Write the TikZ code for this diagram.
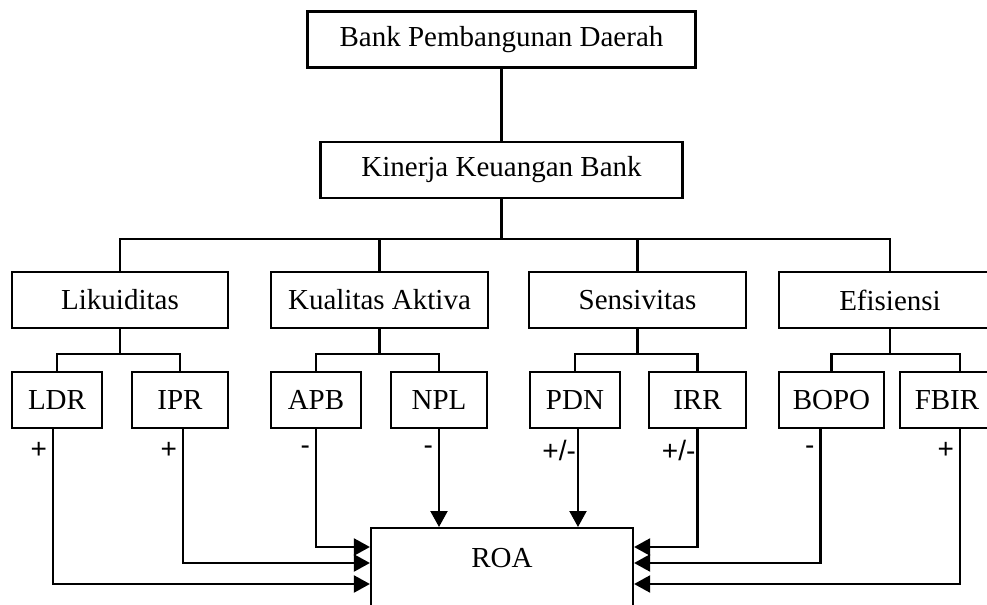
\documentclass[tikz,border=0pt]{standalone}
\usepackage{fontspec}
\setmainfont{Liberation Serif}
\newfontfamily\signfont{Liberation Sans}
\usetikzlibrary{arrows.meta}

\begin{document}
\begin{tikzpicture}[
    x=0.5pt, y=-0.5pt,
    box/.style={draw, line width=1.1pt, minimum height=28pt, inner sep=0pt, font=\fontsize{14.5}{16}\selectfont},
    link/.style={line width=1.1pt},
    arrow/.style={line width=1.1pt, -{Triangle[length=8pt, width=8.5pt]}},
    sign/.style={anchor=east, inner sep=2.5pt, font=\signfont\fontsize{14}{16}\selectfont}
  ]
  \useasboundingbox (0,0) rectangle (987,605);
  \clip (0,0) rectangle (987,605);

  % Top levels
  \node[box, minimum width=194pt] (bpd) at (501.5,39.5) {Bank Pembangunan Daerah};
  \node[box, minimum width=181pt] (kin) at (501.5,170) {Kinerja Keuangan Bank};

  % Aspects
  \node[box, minimum width=108pt] (lik) at (120,300) {Likuiditas};
  \node[box, minimum width=108.5pt] (kual) at (379.5,300) {Kualitas Aktiva};
  \node[box, minimum width=108.5pt] (sens) at (637.5,300) {Sensivitas};
  \node[box, minimum width=111pt] (efis) at (890,300) {Efisiensi};

  % Ratios
  \node[box, minimum width=45pt] (ldr) at (57,400) {LDR};
  \node[box, minimum width=48pt] (ipr) at (180,400) {IPR};
  \node[box, minimum width=45pt] (apb) at (316,400) {APB};
  \node[box, minimum width=48pt] (npl) at (439,400) {NPL};
  \node[box, minimum width=45pt] (pdn) at (575,400) {PDN};
  \node[box, minimum width=48.5pt] (irr) at (697.5,400) {IRR};
  \node[box, minimum width=52.5pt] (bopo) at (831.5,400) {BOPO};
  \node[box, minimum width=47pt] (fbir) at (947,400) {FBIR};

  % Dependent variable
  \node[box, anchor=north, minimum width=131pt, text height=19.5pt, text depth=60pt] (roa) at (502,527) {ROA};

  % Tree
  \draw[link] (bpd.south) -- (kin.north);
  \draw[link] (kin.south) -- ++(0,40) coordinate (bus);
  \draw[link] (lik.north) |- (bus) -| (efis.north);
  \draw[link] (kual.north) -- (kual.north |- bus);
  \draw[link] (sens.north) -- (sens.north |- bus);

  \draw[link] (lik.south) -- ++(0,25) coordinate (likbus);
  \draw[link] (ldr.north) |- (likbus) -| (ipr.north);
  \draw[link] (kual.south) -- ++(0,25) coordinate (kualbus);
  \draw[link] (apb.north) |- (kualbus) -| (npl.north);
  \draw[link] (sens.south) -- ++(0,25) coordinate (sensbus);
  \draw[link] (pdn.north) |- (sensbus) -| (irr.north);
  \draw[link] (efis.south) -- ++(0,25) coordinate (efisbus);
  \draw[link] (bopo.north) |- (efisbus) -| ([xshift=6.5pt]fbir.north);

  % Effects on ROA
  \draw[arrow] ([xshift=-2pt]ldr.south) -- ++(0,21) node[sign] {+} |- ([yshift=-28.5pt]roa.north west);
  \draw[arrow] ([xshift=1.5pt]ipr.south) -- ++(0,21) node[sign] {+} |- ([yshift=-18pt]roa.north west);
  \draw[arrow] (apb.south) -- ++(0,21) node[sign] {-} |- ([yshift=-10pt]roa.north west);
  \draw[arrow] (npl.south) -- ++(0,21) node[sign] {-} -- (npl.south |- roa.north);
  \draw[arrow] ([xshift=1.5pt]pdn.south) -- ++(0,21) node[sign, inner sep=0.5pt] {+/-} -- ([xshift=1.5pt]pdn.south |- roa.north);
  \draw[arrow] (irr.south) -- ++(0,21) node[sign, inner sep=0.5pt] {+/-} |- ([yshift=-10pt]roa.north east);
  \draw[arrow] ([xshift=-5.5pt]bopo.south) -- ++(0,21) node[sign] {-} |- ([yshift=-18pt]roa.north east);
  \draw[arrow] ([xshift=6.5pt]fbir.south) -- ++(0,21) node[sign] {+} |- ([yshift=-28.5pt]roa.north east);
\end{tikzpicture}
\end{document}
